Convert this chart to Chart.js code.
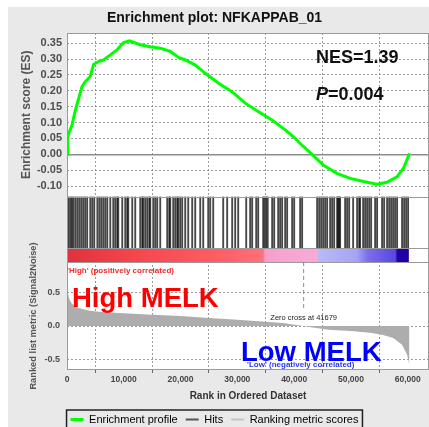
<!DOCTYPE html>
<html>
<head>
<meta charset="utf-8">
<script src="https://cdn.jsdelivr.net/npm/chart.js@4/dist/chart.umd.min.js"></script>
<style>
  html, body { margin: 0; padding: 0; background: #fff; }
  #wrap { position: relative; width: 429px; height: 427px; overflow: hidden; }
  #bg { position: absolute; left: 8px; top: 7px; right: 0; bottom: 0; background: #e9e9e9; }
  canvas { position: absolute; left: 0; top: 0; }
</style>
</head>
<body>
<div id="wrap"><div id="bg"></div><canvas id="gsea" width="429" height="427"></canvas></div>
<script>
const FONT = "'Liberation Sans', Arial, sans-serif";
const GRID = '#9a9a9a';
const DOTS = [2, 2];

// running enrichment score
const esRanks = [0, 100, 880, 1460, 2050, 2640, 3220, 4100, 4680, 5560, 6450, 7620, 8800, 9970, 11000, 12900,
  14660, 16430, 18190, 19650, 20830, 22590, 24350, 26690, 29050, 31390, 33730, 36090, 38430, 40190, 41070,
  42830, 45180, 47530, 49880, 52220, 54580, 56340, 58100, 59260, 60320];
const esValues = [0, 0.055, 0.092, 0.138, 0.175, 0.213, 0.229, 0.245, 0.283, 0.292, 0.297, 0.313, 0.329, 0.352,
  0.357, 0.345, 0.339, 0.334, 0.324, 0.305, 0.297, 0.281, 0.255, 0.224, 0.197, 0.161, 0.134, 0.108, 0.077, 0.05,
  0.034, 0.005, -0.035, -0.060, -0.076, -0.086, -0.094, -0.088, -0.071, -0.044, 0.003];
const esTicks = [-0.10, -0.05, 0.00, 0.05, 0.10, 0.15, 0.20, 0.25, 0.30, 0.35];

// positions of the gene set members in the ranked list
const hitRanks = [50, 300, 600, 850, 1100, 1450, 1800, 2150, 2500, 2850, 3200, 3550, 4100, 4450, 4800, 5350,
  5700, 6040, 6390, 6740, 7090, 7620, 8150, 8500, 8850, 9030, 9730, 10260, 10610, 10790, 11490, 12020, 12900,
  13250, 13430, 13780, 14130, 14490, 14660, 15190, 15540, 15890, 16420, 17650, 18010, 18180, 18710, 19060,
  19410, 19590, 19940, 20290, 20820, 21350, 22050, 22580, 23460, 23990, 24870, 25220, 25750, 27510, 28210,
  29090, 29620, 30150, 31560, 32260, 32610, 33320, 33670, 34550, 34810, 35080, 35340, 36130, 36490, 37190,
  37540, 37890, 38420, 38770, 39650, 40010, 41060, 41410, 44050, 44410, 44760, 45110, 45460, 45810, 46340,
  46690, 47050, 47570, 47750, 47930, 48100, 48980, 49330, 49690, 50390, 51090, 51450, 51620, 52150, 52500,
  52850, 53210, 53560, 54260, 54610, 55490, 55850, 56370, 56730, 57080, 57430, 57780, 58130, 59010, 59370,
  59720, 60070];

// ranked list metric
const metricRanks = [0, 150, 400, 800, 1500, 2500, 4000, 6000, 10000, 15000, 20000, 25000, 30000, 35000, 38000,
  41679, 43000, 46000, 50000, 53400, 55500, 57450, 59000, 59900, 60300];
const metricValues = [0.66, 0.5, 0.4, 0.34, 0.29, 0.26, 0.23, 0.21, 0.19, 0.17, 0.15, 0.12, 0.095, 0.065, 0.045,
  0, -0.02, -0.055, -0.075, -0.1, -0.13, -0.18, -0.28, -0.43, -0.58];
const metricTicks = [-0.5, 0.0, 0.5];

const rankTicks = [0, 10000, 20000, 30000, 40000, 50000, 60000];
const zeroCross = 41679;

// colour bar under the hits
const barRanks = [0, 12000, 25000, 34500, 34900, 44000, 44300, 51000, 53000, 57800, 58200, 60200];
const barColors = ['#e0323c', '#f5464e', '#ff5a62', '#ff7078', '#f5a0cd', '#f8aad5', '#b9b9f5', '#a4a4f5',
  '#7a6eeb', '#5a46e1', '#2300aa', '#1e00a0'];

const legendNames = ['Enrichment profile', 'Hits', 'Ranking metric scores'];
const legendColors = ['#00ff00', '#555555', '#c4c4c4'];

const toXY = (xs, ys) => xs.map((x, i) => ({ x: x, y: ys[i] }));

// white panels, colour bar, frame and the annotations
const decor = {
  id: 'decor',
  beforeDraw(chart) {
    const { ctx, chartArea: a } = chart;
    ctx.save();
    ctx.fillStyle = '#fff';
    ctx.fillRect(a.left, a.top, a.width, a.height);
    ctx.restore();
  },
  beforeDatasetsDraw(chart) {
    const { ctx, chartArea: a, scales: { x, yHits } } = chart;
    const mid = yHits.getPixelForValue(0);
    ctx.save();
    ctx.fillStyle = '#fff';
    ctx.fillRect(a.left, yHits.top, a.width, yHits.bottom - yHits.top);
    const r0 = barRanks[0], r1 = barRanks[barRanks.length - 1];
    const x0 = x.getPixelForValue(r0), x1 = x.getPixelForValue(r1);
    const grad = ctx.createLinearGradient(x0, 0, x1, 0);
    barRanks.forEach((r, i) => grad.addColorStop((r - r0) / (r1 - r0), barColors[i]));
    ctx.fillStyle = grad;
    ctx.fillRect(x0, mid, x1 - x0, yHits.bottom - mid);
    ctx.restore();
  },
  afterDraw(chart) {
    const { ctx, chartArea: a, scales: { x, yHits, yRank } } = chart;
    ctx.save();
    // frame
    ctx.strokeStyle = '#9a9a9a';
    ctx.lineWidth = 1;
    ctx.strokeRect(a.left + 0.5, a.top + 0.5, a.width - 1, a.height - 1);
    [yHits.top, yHits.getPixelForValue(0), yHits.bottom].forEach(y => {
      ctx.beginPath();
      ctx.moveTo(a.left, Math.round(y) + 0.5);
      ctx.lineTo(a.right, Math.round(y) + 0.5);
      ctx.stroke();
    });

    // zero cross
    const zx = x.getPixelForValue(zeroCross);
    ctx.strokeStyle = '#8a8a8a';
    ctx.setLineDash([4, 3]);
    ctx.beginPath();
    ctx.moveTo(zx, yRank.top);
    ctx.lineTo(zx, yRank.getPixelForValue(0.23));
    ctx.stroke();
    ctx.setLineDash([]);
    ctx.fillStyle = '#222';
    ctx.font = '7.5px ' + FONT;
    ctx.textAlign = 'center';
    ctx.fillText('Zero cross at ' + zeroCross, zx, 318);

    ctx.textAlign = 'left';
    ctx.fillStyle = '#111';
    ctx.font = 'bold 18px ' + FONT;
    ctx.fillText('NES=1.39', 316, 58);
    ctx.font = 'italic bold 18px ' + FONT;
    ctx.fillText('P', 316, 95);
    const pw = ctx.measureText('P').width;
    ctx.font = 'bold 18px ' + FONT;
    ctx.fillText('=0.004', 316 + pw, 95);

    ctx.fillStyle = '#ff0000';
    ctx.font = 'bold 27.5px ' + FONT;
    ctx.fillText('High MELK', 72, 299);
    ctx.fillStyle = '#0000ff';
    ctx.fillText('Low MELK', 241, 353);

    ctx.font = 'bold 8px ' + FONT;
    ctx.fillStyle = '#ee2a2a';
    ctx.fillText("'High' (positively correlated)", 67, 271);
    ctx.fillStyle = '#2a3aee';
    ctx.fillText("'Low' (negatively correlated)", 247, 365);

    // legend frame
    const hb = chart.legend.legendHitBoxes;
    if (hb && hb.length) {
      const l = hb[0].left - 4;
      const r = hb[hb.length - 1].left + hb[hb.length - 1].width + 4;
      ctx.strokeStyle = '#222';
      ctx.lineWidth = 1.5;
      ctx.strokeRect(l, 410, r - l, 30);
    }
    ctx.restore();
  }
};

new Chart(document.getElementById('gsea'), {
  type: 'line',
  data: {
    datasets: [
      {
        label: 'Enrichment profile',
        data: toXY(esRanks, esValues),
        yAxisID: 'yES',
        borderColor: '#00ff00',
        borderWidth: 3,
        pointRadius: 0,
        fill: false
      },
      {
        type: 'bar',
        label: 'Hits',
        data: hitRanks.map(r => ({ x: r, y: 1 })),
        yAxisID: 'yHits',
        backgroundColor: 'rgba(0,0,0,0.72)',
        barThickness: 1.2,
        grouped: false
      },
      {
        label: 'Ranking metric scores',
        data: toXY(metricRanks, metricValues),
        yAxisID: 'yRank',
        borderWidth: 0,
        pointRadius: 0,
        backgroundColor: '#adadad',
        fill: 'origin'
      }
    ]
  },
  options: {
    responsive: false,
    animation: false,
    layout: { padding: { top: 0, left: 0, right: 0, bottom: -8 } },
    scales: {
      x: {
        type: 'linear',
        min: 0,
        max: 63750,
        offset: false,
        afterBuildTicks: s => { s.ticks = rankTicks.map(v => ({ value: v })); },
        afterFit: s => { s.height = 36; },
        grid: { color: GRID, lineWidth: 1, borderDash: DOTS, tickColor: '#666', tickLength: 3 },
        border: { display: false, dash: DOTS },
        ticks: {
          padding: 2, color: '#444', maxRotation: 0, autoSkip: false,
          font: { family: FONT, size: 8.5, weight: 'bold' },
          callback: v => v.toLocaleString('en-US')
        },
        title: {
          display: true, text: 'Rank in Ordered Dataset', color: '#333',
          font: { family: FONT, size: 10, weight: 'bold' }, padding: { top: 0, bottom: 4 }
        }
      },
      yRank: {
        position: 'left',
        stack: 'gsea',
        stackWeight: 108,
        min: -0.66,
        max: 0.96,
        afterBuildTicks: s => { s.ticks = metricTicks.map(v => ({ value: v })); },
        afterFit: s => { s.width = 67; },
        grid: { drawTicks: false, color: GRID, lineWidth: 1, borderDash: DOTS },
        border: { display: false, dash: DOTS },
        ticks: {
          padding: 7, color: '#4d4d4d', autoSkip: false,
          font: { family: FONT, size: 9, weight: 'bold' },
          callback: v => v.toFixed(1)
        },
        title: {
          display: true, text: 'Ranked list metric (Signal2Noise)', color: '#555',
          font: { family: FONT, size: 9.3, weight: 'bold' }, padding: { top: 28 }
        }
      },
      yHits: {
        position: 'left',
        stack: 'gsea',
        stackWeight: 65.5,
        min: -0.272,
        max: 1,
        afterFit: s => { s.width = 67; },
        grid: { display: false },
        border: { display: false },
        ticks: { display: false }
      },
      yES: {
        position: 'left',
        stack: 'gsea',
        stackWeight: 163.5,
        min: -0.133,
        max: 0.382,
        afterBuildTicks: s => { s.ticks = esTicks.map(v => ({ value: v })); },
        afterFit: s => { s.width = 67; },
        grid: {
          drawTicks: false,
          color: c => (c.tick && c.tick.value === 0) ? '#8c8c8c' : GRID,
          lineWidth: c => (c.tick && c.tick.value === 0) ? 1.5 : 1,
          borderDash: DOTS
        },
        border: { display: false, dash: c => (c.tick && c.tick.value === 0) ? [] : DOTS },
        ticks: {
          padding: 5, color: '#4d4d4d', autoSkip: false,
          font: { family: FONT, size: 11, weight: 'bold' },
          callback: v => v.toFixed(2)
        },
        title: {
          display: true, text: 'Enrichment score (ES)', color: '#555',
          font: { family: FONT, size: 12, weight: 'bold' }, padding: { top: 19 }
        }
      }
    },
    plugins: {
      title: {
        display: true,
        text: 'Enrichment plot: NFKAPPAB_01',
        color: '#111',
        font: { family: FONT, size: 14, weight: 'bold' },
        padding: { top: 10, bottom: 6.2 }
      },
      legend: {
        position: 'bottom',
        labels: {
          font: { family: FONT, size: 11 },
          color: '#222',
          usePointStyle: true,
          pointStyleWidth: 13,
          padding: 8,
          generateLabels: () => legendNames.map((t, i) => ({
            text: t,
            strokeStyle: legendColors[i],
            fillStyle: legendColors[i],
            lineWidth: i === 0 ? 3 : 2,
            pointStyle: 'line',
            hidden: false,
            datasetIndex: i
          }))
        }
      },
      tooltip: { enabled: false }
    }
  },
  plugins: [decor]
});
</script>
</body>
</html>
